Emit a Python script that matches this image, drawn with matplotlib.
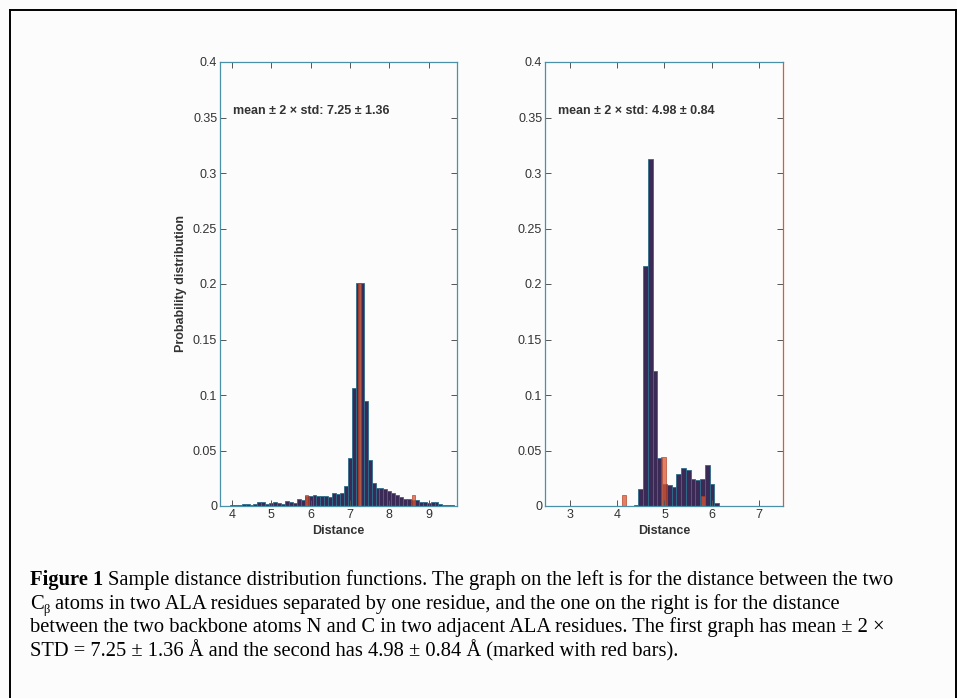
import matplotlib.pyplot as plt
from matplotlib.lines import Line2D

# bin centres and heights
left_centres = [4.0, 4.1, 4.2, 4.3, 4.4, 4.5, 4.6, 4.7, 4.8, 4.9,
                5.0, 5.1, 5.2, 5.3, 5.4, 5.5, 5.6, 5.7, 5.8, 5.9,
                6.0, 6.1, 6.2, 6.3, 6.4, 6.5, 6.6, 6.7, 6.8, 6.9,
                7.0, 7.1, 7.2, 7.3, 7.4, 7.5, 7.6, 7.7, 7.8, 7.9,
                8.0, 8.1, 8.2, 8.3, 8.4, 8.5, 8.6, 8.7, 8.8, 8.9,
                9.0, 9.1, 9.2, 9.3, 9.4, 9.5, 9.6]
left_probs = [0.0005, 0.0005, 0.0008, 0.002, 0.0015, 0.001, 0.002, 0.004, 0.004, 0.002,
              0.003, 0.0035, 0.0025, 0.002, 0.0045, 0.004, 0.003, 0.006, 0.0055, 0.009,
              0.009, 0.0095, 0.009, 0.009, 0.009, 0.008, 0.012, 0.011, 0.012, 0.018,
              0.043, 0.106, 0.201, 0.201, 0.095, 0.041, 0.021, 0.016, 0.016, 0.0157,
              0.0136, 0.012, 0.010, 0.008, 0.006, 0.006, 0.005, 0.005, 0.0035, 0.004,
              0.003, 0.004, 0.004, 0.002, 0.001, 0.001, 0.0005]
left_marks = [5.89, 7.25, 8.61]
left_mark_h = [0.01, 0.201, 0.01]

right_centres = [4.3, 4.4, 4.5, 4.6, 4.7, 4.8, 4.9, 5.0, 5.1, 5.2,
                 5.3, 5.4, 5.5, 5.6, 5.7, 5.8, 5.9, 6.0, 6.1]
right_probs = [0.0004, 0.001, 0.015, 0.216, 0.313, 0.122, 0.043, 0.02, 0.019, 0.017,
               0.0285, 0.0345, 0.0325, 0.024, 0.023, 0.024, 0.037, 0.020, 0.003]
right_marks = [4.14, 4.98, 5.82]
right_mark_h = [0.0096, 0.044, 0.009]

left_text = 'mean ± 2 × std: 7.25 ± 1.36'
right_text = 'mean ± 2 × std: 4.98 ± 0.84'
left_xticks = [4, 5, 6, 7, 8, 9]
right_xticks = [3, 4, 5, 6, 7]
yticks = [0, 0.05, 0.1, 0.15, 0.2, 0.25, 0.3, 0.35, 0.4]
ytick_labels = ['0', '0.05', '0.1', '0.15', '0.2', '0.25', '0.3', '0.35', '0.4']

caption = [
    'Sample distance distribution functions. The graph on the left is for the distance between the two',
    'atoms in two ALA residues separated by one residue, and the one on the right is for the distance',
    'between the two backbone atoms N and C in two adjacent ALA residues. The first graph has mean ± 2 ×',
    'STD = 7.25 ± 1.36 Å and the second has 4.98 ± 0.84 Å (marked with red bars).',
]

BAR = '#3b2a55'
EDGE = '#2e6e8c'
RED = '#dc5530'
SPINE = '#4a90a8'

plt.rcParams['font.family'] = ['Liberation Sans', 'DejaVu Sans']

W, H = 957, 698
fig = plt.figure(figsize=(W / 100, H / 100), dpi=100)
fig.patch.set_facecolor('#fcfcfc')


def panel(rect, centres, probs, marks, mark_h, xlim, xticks, label, mark_w, ylab):
    ax = fig.add_axes(rect)
    ax.set_facecolor('#fcfcfc')
    ax.bar(centres, probs, width=0.1, color=BAR, edgecolor=EDGE, linewidth=0.6)
    ax.bar(marks, mark_h, width=mark_w, color=RED, edgecolor='#b03a20',
           linewidth=0.6, alpha=0.75)
    ax.set_xlim(*xlim)
    ax.set_ylim(0, 0.4)
    ax.set_xticks(xticks)
    ax.set_yticks(yticks)
    ax.set_yticklabels(ytick_labels)
    ax.tick_params(direction='in', length=4, width=0.7, color='#555555',
                   labelsize=9, labelcolor='#333333', top=True, right=True, pad=2)
    for s in ax.spines.values():
        s.set_color(SPINE)
        s.set_linewidth(0.9)
    ax.set_xlabel('Distance', fontsize=9, fontweight='bold', color='#333333', labelpad=3)
    if ylab:
        ax.set_ylabel('Probability distribution', fontsize=9, fontweight='bold',
                      color='#333333', labelpad=4)
    ax.text(0.053, 0.89, label, transform=ax.transAxes, fontsize=9,
            fontweight='bold', color='#333333', va='center')
    return ax


panel([220 / W, 1 - 506 / H, 237 / W, 444 / H], left_centres, left_probs,
      left_marks, left_mark_h, (3.7, 9.72), left_xticks, left_text, 0.08, True)
axr = panel([545 / W, 1 - 506 / H, 238 / W, 444 / H], right_centres, right_probs,
            right_marks, right_mark_h, (2.48, 7.5), right_xticks, right_text, 0.09, False)
axr.spines['right'].set_color('#d0603a')

# outer frame (top and left visible, right sits at the edge)
for xs, ys in [([10, 10], [10, 698]), ([10, 956], [10, 10]), ([956, 956], [10, 698])]:
    fig.add_artist(Line2D([x / W for x in xs], [1 - y / H for y in ys], color='black',
                          linewidth=1.4, transform=fig.transFigure))

# caption
serif = ['Liberation Serif', 'DejaVu Serif']
fs = 14.8
x0 = 30 / W
base = 585
step = 23.7
t = fig.text(x0, 1 - base / H, 'Figure 1', fontsize=fs, fontweight='bold',
             family=serif, va='baseline')
fig.canvas.draw()
bb = t.get_window_extent()
fig.text(bb.x1 / W + 5 / W, 1 - base / H, caption[0], fontsize=fs, family=serif, va='baseline')
t2 = fig.text(x0, 1 - (base + step) / H, 'C', fontsize=fs, family=serif, va='baseline')
fig.canvas.draw()
bb2 = t2.get_window_extent()
t3 = fig.text(bb2.x1 / W, 1 - (base + step + 4) / H, 'β', fontsize=9, family=serif,
              va='baseline')
fig.canvas.draw()
bb3 = t3.get_window_extent()
fig.text(bb3.x1 / W + 5 / W, 1 - (base + step) / H, caption[1], fontsize=fs, family=serif,
         va='baseline')
fig.text(x0, 1 - (base + 2 * step) / H, caption[2], fontsize=fs, family=serif, va='baseline')
fig.text(x0, 1 - (base + 3 * step) / H, caption[3], fontsize=fs, family=serif, va='baseline')

fig.savefig('out.png', dpi=100, facecolor=fig.get_facecolor())
